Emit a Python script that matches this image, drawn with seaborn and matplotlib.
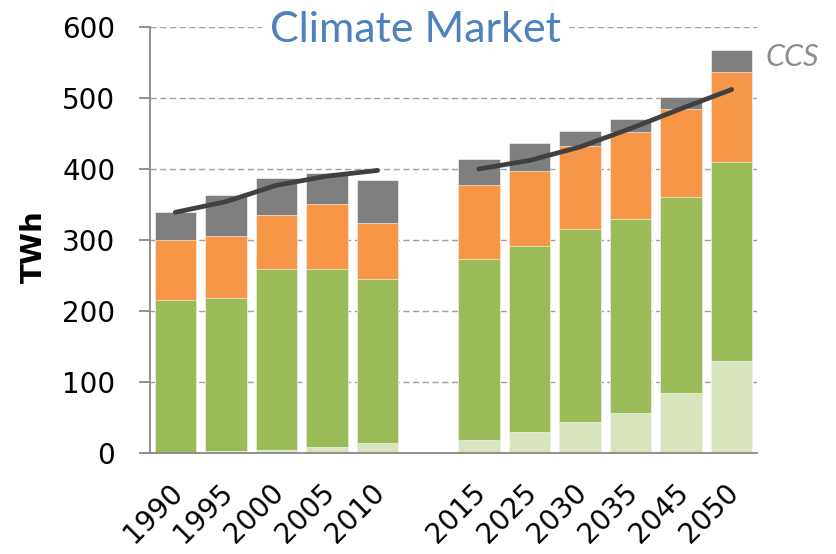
import matplotlib
matplotlib.use("Agg")
import matplotlib.pyplot as plt
import matplotlib.transforms as mtransforms
import seaborn as sns
import numpy as np
import pandas as pd

years = ["1990", "1995", "2000", "2005", "2010", "2015", "2025", "2030", "2035", "2045", "2050"]
order = ["1990", "1995", "2000", "2005", "2010", " ", "2015", "2025", "2030", "2035", "2045", "2050"]

light_green = [0, 3, 4, 8, 14, 19, 29, 44, 57, 85, 130]
green = [215, 215, 255, 251, 231, 254, 263, 271, 272, 275, 280]
orange = [85, 87, 76, 91, 79, 105, 105, 118, 123, 125, 126]
gray = [40, 58, 52, 45, 61, 36, 39, 20, 18, 16, 32]

line_hist_years = ["1990", "1995", "2000", "2005", "2010"]
line_hist = [339, 354, 377, 390, 398]
line_proj_years = ["2015", "2025", "2030", "2035", "2045", "2050"]
line_proj = [400, 412, 431, 457, 485, 512]

df = pd.DataFrame({"year": years, "lg": light_green, "g": green, "o": orange, "gr": gray})
df["c1"] = df["lg"]
df["c2"] = df["c1"] + df["g"]
df["c3"] = df["c2"] + df["o"]
df["c4"] = df["c3"] + df["gr"]

sns.set_theme(style="white")
plt.rcParams["font.family"] = ["DejaVu Sans"]

fig = plt.figure(figsize=(8.36, 5.54), dpi=100)
ax = fig.add_axes([0.1794, 0.1823, 0.9055 - 0.1794, 0.9513 - 0.1823])

colors = {"c4": "#7F7F7F", "c3": "#F79646", "c2": "#9BBB59", "c1": "#D7E4BD"}
for col in ["c4", "c3", "c2", "c1"]:
    sns.barplot(data=df, x="year", y=col, order=order, color=colors[col],
                saturation=1, width=0.82, ax=ax, edgecolor="white", linewidth=0.4)

pos = {c: i for i, c in enumerate(order)}
sns.lineplot(x=[pos[y] for y in line_hist_years], y=line_hist, color="#404040",
             linewidth=3.4, ax=ax, solid_capstyle="round")
sns.lineplot(x=[pos[y] for y in line_proj_years], y=line_proj, color="#404040",
             linewidth=3.4, ax=ax, solid_capstyle="round")

ax.set_ylim(0, 600)
ax.set_xlim(-0.5, len(order) - 0.5)
ax.set_yticks(range(0, 601, 100))
ax.yaxis.grid(True, linestyle=(0, (4.5, 2.5)), color="#A0A0A0", linewidth=1.0)
ax.set_axisbelow(True)
for s in ["top", "right"]:
    ax.spines[s].set_visible(False)
for s in ["left", "bottom"]:
    ax.spines[s].set_color("#888888")
    ax.spines[s].set_linewidth(1.3)

ax.set_xticks(range(len(order)))
ax.set_xticklabels(order, rotation=45, ha="right", rotation_mode="anchor", fontsize=20)
ax.tick_params(axis="x", length=0, pad=18, labelcolor="black")
offset = mtransforms.ScaledTranslation(-7 / 100, 0, fig.dpi_scale_trans)
for lab in ax.get_xticklabels():
    lab.set_transform(lab.get_transform() + offset)
ax.set_xticks(np.arange(-0.5, len(order), 1.0), minor=True)
ax.tick_params(axis="x", which="minor", length=9, color="#888888", width=1.3, direction="out")
ax.tick_params(axis="y", labelsize=20, length=8, pad=17, color="#888888", width=1.3,
               direction="out", left=True, labelcolor="black")

ax.set_xlabel("")
ax.set_ylabel("")
fig.text(34 / 836, 1 - 247 / 554, "TWh", rotation=90, ha="center", va="center",
         fontsize=21, fontweight="bold", color="black")

title_tr = mtransforms.blended_transform_factory(ax.transAxes, ax.transData)
ax.text(0.437, 579, "Climate Market", transform=title_tr, ha="center", va="baseline",
        fontsize=31, color="#4F81BD", family=["Lato", "DejaVu Sans"],
        bbox=dict(facecolor="white", edgecolor="none", pad=6))
fig.text(792 / 836, 1 - 57.5 / 554, "CCS", ha="center", va="center", fontsize=22,
         color="#8C8C8C", style="italic", family=["Lato", "DejaVu Sans"])

fig.savefig("out.png", dpi=100)
